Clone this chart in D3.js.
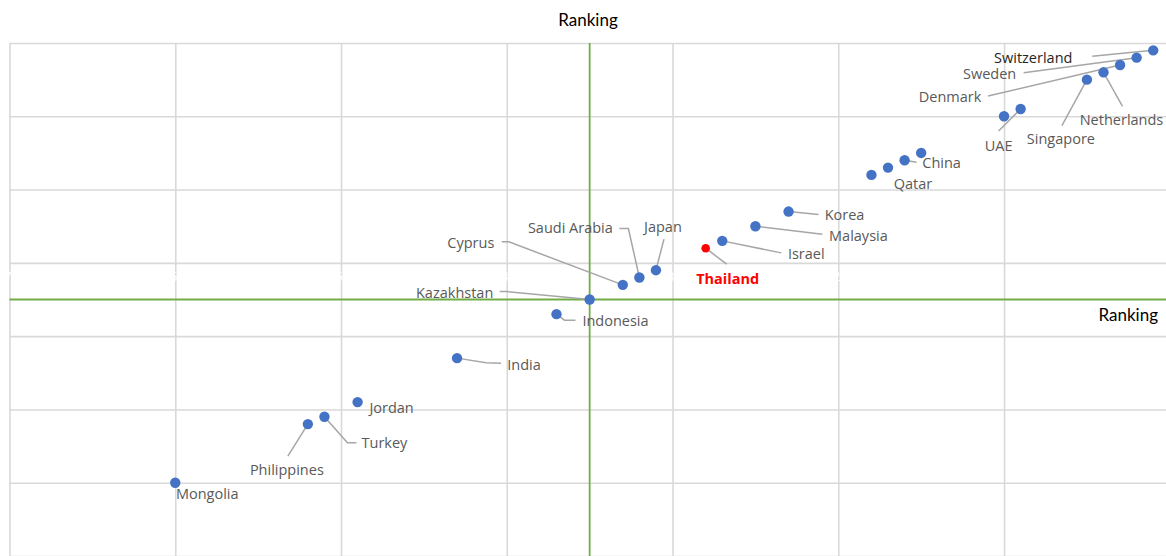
<!DOCTYPE html>
<html>
<head>
<meta charset="utf-8">
<script src="https://cdn.jsdelivr.net/npm/d3@7"></script>
<style>
  body { margin: 0; background: #fff; }
  svg { display: block; }
  .lbl { font-family: "Open Sans", sans-serif; font-size: 14.5px; fill: #595959; }
  .ttl { font-family: Lato, sans-serif; font-size: 17px; fill: #000; }
</style>
</head>
<body>
<div id="graph"></div>
<script>
// countries in ranking order (null = point without a label)
var countries = ["Switzerland", "Sweden", "Denmark", "Netherlands", "Singapore", "UAE", null, null,
    "China", "Qatar", null, "Korea", "Malaysia", "Israel", "Thailand", "Japan", "Saudi Arabia",
    "Cyprus", "Kazakhstan", "Indonesia", "India", "Jordan", "Turkey", "Philippines", "Mongolia"];
var xRank = [1, 2, 3, 4, 5, 9, 10, 15, 16, 17, 18, 23, 25, 27, 28, 31, 32, 33, 35, 37, 43, 49, 51, 52, 60];
var yRank = [1, 2, 3, 4, 5, 9, 10, 15, 16, 17, 18, 23, 25, 27, 28, 31, 32, 33, 35, 37, 43, 49, 51, 52, 60];
var xTicks = [70, 60, 50, 40, 30, 20, 10];
var yTicks = [0, 10, 20, 30, 40, 50, 60, 70];
var crossAt = 35;
var highlight = "Thailand";

// label placement relative to each point (text centre / baseline, leader line points)
var labelPos = {
    "Switzerland": { dx: -120, dy: 13, lead: [[-61, 6]] },
    "Sweden": { dx: -147, dy: 21, lead: [[-113, 15]] },
    "Denmark": { dx: -170, dy: 37, lead: [[-132, 31]] },
    "Netherlands": { dx: 18, dy: 53, lead: [[19, 34]] },
    "Singapore": { dx: -26, dy: 64, lead: [[-25, 46]] },
    "UAE": { dx: -22, dy: 42, lead: [[-22, 22]] },
    "China": { dx: 37, dy: 8, lead: [[12, 2]] },
    "Qatar": { dx: 25, dy: 21, lead: null },
    "Korea": { dx: 56, dy: 8, lead: [[30, 3]] },
    "Malaysia": { dx: 103, dy: 15, lead: [[67, 8]] },
    "Israel": { dx: 84, dy: 18, lead: [[59, 12]] },
    "Thailand": { dx: 22, dy: 36, lead: [[21, 16]] },
    "Japan": { dx: 7, dy: -38, lead: [[8, -31]] },
    "Saudi Arabia": { dx: -69, dy: -45, lead: [[-20, -49], [-11, -49]] },
    "Cyprus": { dx: -152, dy: -37, lead: [[-121, -43], [-114, -43]] },
    "Kazakhstan": { dx: -135, dy: -2, lead: [[-90, -8], [-83, -8]] },
    "Indonesia": { dx: 59, dy: 12, lead: [[19, 6], [8, 6]] },
    "India": { dx: 67, dy: 12, lead: [[44, 5], [29, 4.5]] },
    "Jordan": { dx: 34, dy: 11, lead: null },
    "Turkey": { dx: 60, dy: 31, lead: [[32, 26], [23, 26]] },
    "Philippines": { dx: -21, dy: 51, lead: [[-20, 32]] },
    "Mongolia": { dx: 32, dy: 16, lead: null }
};

var W = 1166, H = 556;
var plot = { left: 9.5, right: 1169.8, top: 43, bottom: 556 };

var x = d3.scaleLinear().domain([70, 0]).range([plot.left, plot.right]);
var y = d3.scaleLinear().domain([0, 70]).range([plot.top, plot.bottom]);

var svg = d3.select("#graph").append("svg")
    .attr("width", W)
    .attr("height", H);

var data = countries.map(function (c, i) {
    return { name: c, x: xRank[i], y: yRank[i] };
});

// gridlines
svg.append("g")
    .attr("transform", "translate(0," + plot.top + ")")
    .call(d3.axisTop(x).tickValues(xTicks.concat([0])).tickSize(-(plot.bottom - plot.top)).tickFormat(""))
    .call(g => g.select(".domain").remove())
    .call(g => g.selectAll("line").attr("stroke", "#d9d9d9").attr("stroke-width", 1.6));

svg.append("g")
    .attr("transform", "translate(" + plot.left + ",0)")
    .call(d3.axisLeft(y).tickValues(yTicks).tickSize(-(plot.right - plot.left)).tickFormat(""))
    .call(g => g.select(".domain").remove())
    .call(g => g.selectAll("line").attr("stroke", "#d9d9d9").attr("stroke-width", 1.6));

// hidden (white) tick labels as in the original
svg.append("g")
    .selectAll("text")
    .data(xTicks)
    .enter().append("text")
    .attr("x", d => x(d) + 2)
    .attr("y", 281)
    .attr("text-anchor", "middle")
    .attr("fill", "#ffffff")
    .style("font-family", "Open Sans, sans-serif")
    .style("font-size", "13px")
    .text(d => d);

// crossing axes
svg.append("line")
    .attr("x1", x(crossAt)).attr("x2", x(crossAt))
    .attr("y1", plot.top).attr("y2", plot.bottom)
    .attr("stroke", "#70ad47").attr("stroke-width", 1.8);
svg.append("line")
    .attr("x1", plot.left).attr("x2", plot.right)
    .attr("y1", y(crossAt)).attr("y2", y(crossAt))
    .attr("stroke", "#70ad47").attr("stroke-width", 1.8);

// axis titles
svg.append("text").attr("class", "ttl")
    .attr("x", 588).attr("y", 26)
    .attr("text-anchor", "middle")
    .text("Ranking");
svg.append("text").attr("class", "ttl")
    .attr("x", 1158).attr("y", 321)
    .attr("text-anchor", "end")
    .text("Ranking");

var labelled = data.filter(d => d.name && labelPos[d.name]);

// leader lines
svg.append("g")
    .selectAll("path")
    .data(labelled.filter(d => labelPos[d.name].lead))
    .enter().append("path")
    .attr("fill", "none")
    .attr("stroke", "#a6a6a6")
    .attr("stroke-width", 1.5)
    .attr("d", function (d) {
        var px = x(d.x), py = y(d.y);
        var pts = labelPos[d.name].lead.map(p => [px + p[0], py + p[1]]);
        pts.push([px, py]);
        return d3.line()(pts);
    });

// points
svg.append("g")
    .selectAll("circle")
    .data(data)
    .enter().append("circle")
    .attr("cx", d => x(d.x))
    .attr("cy", d => y(d.y))
    .attr("r", d => d.name == highlight ? 4.3 : 5.2)
    .attr("fill", d => d.name == highlight ? "#ff0000" : "#4472c4");

// labels
svg.append("g")
    .selectAll("text")
    .data(labelled)
    .enter().append("text")
    .attr("class", "lbl")
    .attr("x", d => x(d.x) + labelPos[d.name].dx)
    .attr("y", d => y(d.y) + labelPos[d.name].dy)
    .attr("text-anchor", "middle")
    .style("fill", d => d.name == highlight ? "#ff0000" : (d.name == "Switzerland" ? "#262626" : null))
    .style("font-weight", d => d.name == highlight ? "bold" : null)
    .text(d => d.name);
</script>
</body>
</html>
